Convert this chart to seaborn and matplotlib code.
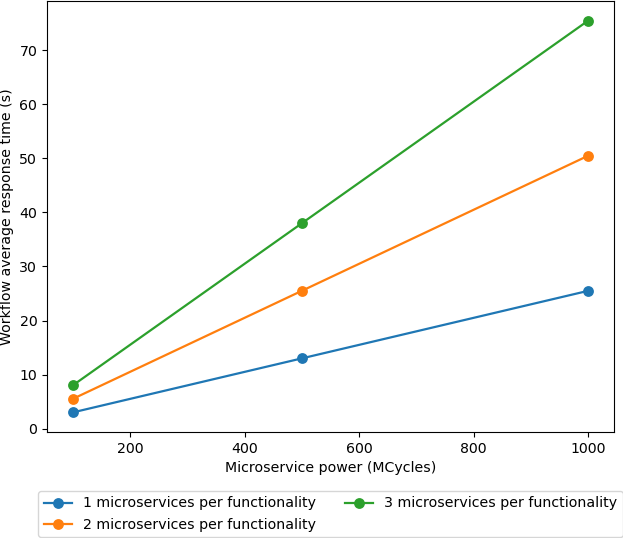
import pandas as pd
import matplotlib
matplotlib.use("Agg")
import matplotlib.pyplot as plt
import seaborn as sns

# microservice power (MCycles)
power = [100, 500, 1000]

# average workflow response time (s)
one_ms = [3, 13, 25.5]
two_ms = [5.5, 25.5, 50.5]
three_ms = [8, 38, 75.5]

labels = ["1 microservices per functionality",
          "2 microservices per functionality",
          "3 microservices per functionality"]

df = pd.DataFrame({
    "power": power * 3,
    "time": one_ms + two_ms + three_ms,
    "series": [labels[0]] * 3 + [labels[1]] * 3 + [labels[2]] * 3,
})

plt.rcParams["font.size"] = 10.2

fig = plt.figure(figsize=(6.23, 5.38), dpi=100)
ax = fig.add_axes([47 / 623, 1 - 432 / 538, 567 / 623, 431 / 538])

sns.lineplot(data=df, x="power", y="time", hue="series", hue_order=labels,
             palette=["#1f77b4", "#ff7f0e", "#2ca02c"],
             marker="o", markersize=7.8, markeredgewidth=0, linewidth=1.6, ax=ax)

ax.set_xlabel("Microservice power (MCycles)")
ax.set_ylabel("Workflow average response time (s)")

sns.move_legend(ax, "upper center", bbox_to_anchor=(0.5, -0.12), ncol=2,
                title=None, frameon=True)

fig.savefig("out.png", dpi=100)
